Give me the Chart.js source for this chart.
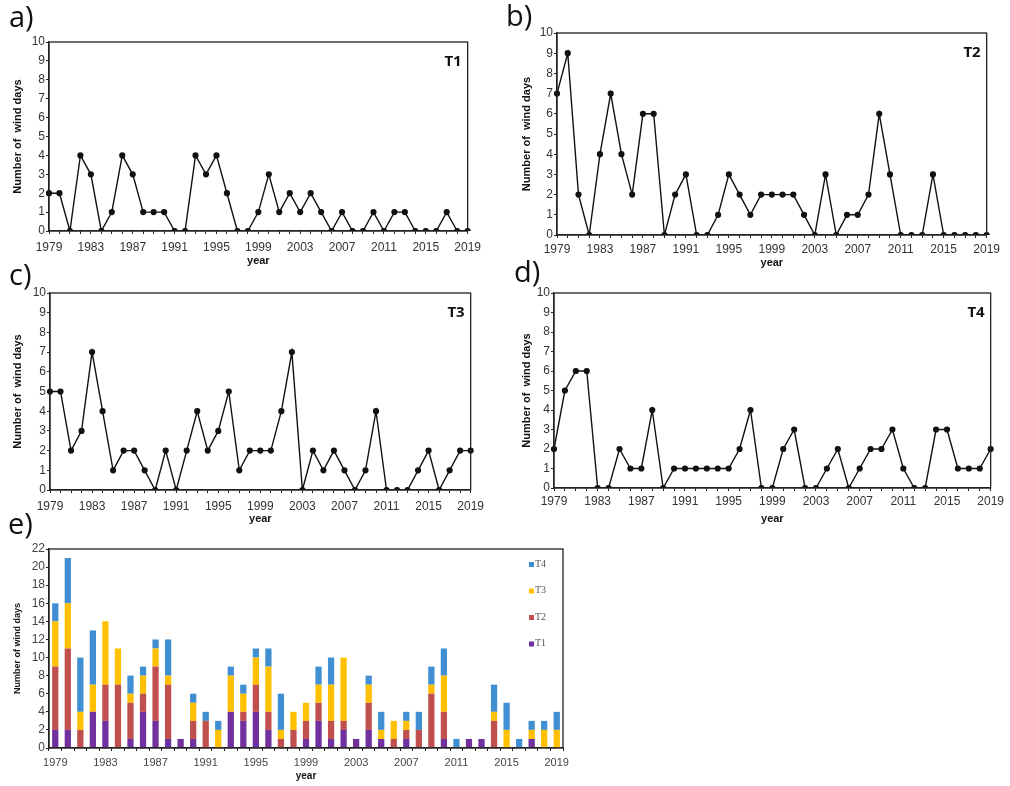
<!DOCTYPE html>
<html>
<head>
<meta charset="utf-8">
<script src="https://cdn.jsdelivr.net/npm/chart.js@4.4.1/dist/chart.umd.min.js"></script>
<style>
  body { margin: 0; background: #fff; }
  #page { position: relative; width: 1010px; height: 786px; overflow: hidden; }
  .panel { position: absolute; }
  .tag { position: absolute; font-family: "Open Sans", sans-serif; font-size: 29px; line-height: 1; color: #111; }
</style>
</head>
<body>
<div id="page">
  <div class="panel" style="left:0;top:0;width:487px;height:272px"><canvas id="chartA"></canvas></div>
  <div class="panel" style="left:500px;top:0;width:504px;height:274px"><canvas id="chartB"></canvas></div>
  <div class="panel" style="left:0;top:255px;width:490px;height:275px"><canvas id="chartC"></canvas></div>
  <div class="panel" style="left:500px;top:255px;width:507px;height:275px"><canvas id="chartD"></canvas></div>
  <div class="panel" style="left:0;top:505px;width:600px;height:281px"><canvas id="chartE"></canvas></div>
  <div class="tag" style="left:9px;top:1px">a)</div>
  <div class="tag" style="left:506px;top:0px">b)</div>
  <div class="tag" style="left:9px;top:259px">c)</div>
  <div class="tag" style="left:514px;top:256px">d)</div>
  <div class="tag" style="left:8px;top:508px">e)</div>
</div>
<script>
// years 1979..2019
const years = [];
for (let y = 1979; y <= 2019; y++) years.push(String(y));

// number of wind days per type
const t1 = [2,2,0,4,3,0,1,4,3,1,1,1,0,0,4,3,4,2,0,0,1,3,1,2,1,2,1,0,1,0,0,1,0,1,1,0,0,0,1,0,0];
const t2 = [7,9,2,0,4,7,4,2,6,6,0,2,3,0,0,1,3,2,1,2,2,2,2,1,0,3,0,1,1,2,6,3,0,0,0,3,0,0,0,0,0];
const t3 = [5,5,2,3,7,4,1,2,2,1,0,2,0,2,4,2,3,5,1,2,2,2,4,7,0,2,1,2,1,0,1,4,0,0,0,1,2,0,1,2,2];
const t4 = [2,5,6,6,0,0,2,1,1,4,0,1,1,1,1,1,1,2,4,0,0,2,3,0,0,1,2,0,1,2,2,3,1,0,0,3,3,1,1,1,2];

const typeNames = ['T1', 'T2', 'T3', 'T4'];
const typeColors = ['#7030A0', '#C0504D', '#FFC000', '#3F8FD2'];

const tickFont = { family: 'Liberation Sans, Arial, sans-serif', size: 12 };
const titleFont = { family: 'Liberation Sans, Arial, sans-serif', size: 11, weight: 'bold' };

// box around the plot area (top and right edges like Excel)
const frame = {
    id: 'frame',
    afterDraw(chart) {
        const a = chart.chartArea, ctx = chart.ctx;
        ctx.save();
        ctx.strokeStyle = '#222';
        ctx.lineWidth = 1.3;
        ctx.strokeRect(a.left, a.top, a.right - a.left, a.bottom - a.top);
        ctx.restore();
    }
};

// series name written in the top-right corner of the line panels
const cornerName = {
    id: 'cornerName',
    afterDraw(chart) {
        if (chart.config.type !== 'line') return;
        const a = chart.chartArea, ctx = chart.ctx;
        ctx.save();
        ctx.font = 'bold 15px "Open Sans", sans-serif';
        ctx.fillStyle = '#111';
        ctx.textAlign = 'right';
        ctx.textBaseline = 'middle';
        ctx.fillText(chart.data.datasets[0].label, a.right - 6, a.top + 20);
        ctx.restore();
    }
};

// small vertical legend inside the stacked panel, top series first
const cornerLegend = {
    id: 'cornerLegend',
    afterDraw(chart) {
        if (chart.config.type !== 'bar') return;
        const a = chart.chartArea, ctx = chart.ctx;
        const sets = chart.data.datasets.slice().reverse();
        ctx.save();
        ctx.font = '10px "Liberation Serif", serif';
        ctx.textBaseline = 'middle';
        sets.forEach((ds, i) => {
            const y = a.top + 15 + i * 26.5;
            ctx.fillStyle = ds.backgroundColor;
            ctx.fillRect(a.right - 34, y - 2, 5, 5);
            ctx.fillStyle = '#555';
            ctx.fillText(ds.label, a.right - 28, y);
        });
        ctx.restore();
    }
};

function lineChart(id, name, values, box) {
    new Chart(document.getElementById(id), {
        type: 'line',
        data: {
            labels: years,
            datasets: [{
                label: name,
                data: values,
                borderColor: '#111',
                borderWidth: 1.4,
                pointRadius: 2.4,
                pointBackgroundColor: '#111',
                pointBorderColor: '#111',
                tension: 0
            }]
        },
        options: {
            responsive: true,
            maintainAspectRatio: false,
            animation: false,
            layout: { padding: { top: box.top, right: box.right, left: 0, bottom: 0 } },
            plugins: { legend: { display: false }, tooltip: { enabled: false } },
            scales: {
                x: {
                    offset: false,
                    grid: { drawOnChartArea: false, tickLength: 3, color: '#222' },
                    border: { color: '#222', width: 1.3 },
                    ticks: {
                        autoSkip: false, maxRotation: 0, padding: box.xpad,
                        font: tickFont, color: '#333',
                        callback: function(v, i) { return i % 4 === 0 ? this.getLabelForValue(v) : ''; }
                    },
                    title: { display: true, text: 'year', font: titleFont, color: '#111', padding: { top: 0, bottom: 4 } },
                    afterFit(s) { s.height = box.xh; }
                },
                y: {
                    min: 0, max: 10,
                    grid: { drawOnChartArea: false, tickLength: 3, color: '#222' },
                    border: { color: '#222', width: 1.3 },
                    ticks: { stepSize: 1, padding: 1, font: tickFont, color: '#333' },
                    title: { display: true, text: 'Number of  wind days', font: titleFont, color: '#111', padding: { top: box.tpad, bottom: 0 } },
                    afterFit(s) { s.width = box.yw; }
                }
            }
        },
        plugins: [frame, cornerName]
    });
}

lineChart('chartA', typeNames[0], t1, { top: 42, right: 12, yw: 49, xh: 41, xpad: 6, tpad: 11 });
lineChart('chartB', typeNames[1], t2, { top: 33, right: 13, yw: 57, xh: 39, xpad: 4, tpad: 20 });
lineChart('chartC', typeNames[2], t3, { top: 38, right: 10, yw: 50, xh: 40, xpad: 6, tpad: 11 });
lineChart('chartD', typeNames[3], t4, { top: 38, right: 10, yw: 54, xh: 42, xpad: 3, tpad: 20 });

const stackSeries = [t1, t2, t3, t4];

new Chart(document.getElementById('chartE'), {
    type: 'bar',
    data: {
        labels: years,
        datasets: stackSeries.map((vals, i) => ({
            label: typeNames[i],
            data: vals,
            backgroundColor: typeColors[i],
            barPercentage: 0.5,
            categoryPercentage: 1
        }))
    },
    options: {
        responsive: true,
        maintainAspectRatio: false,
        animation: false,
        layout: { padding: { top: 44, right: 37, left: 0, bottom: 0 } },
        plugins: { legend: { display: false }, tooltip: { enabled: false } },
        scales: {
            x: {
                stacked: true,
                grid: { drawOnChartArea: false, tickLength: 3, color: '#222', offset: true },
                border: { color: '#222', width: 1.3 },
                ticks: {
                    autoSkip: false, maxRotation: 0, padding: 5,
                    font: { family: 'Liberation Sans, Arial, sans-serif', size: 11 }, color: '#444',
                    callback: function(v, i) { return i % 4 === 0 ? this.getLabelForValue(v) : ''; }
                },
                title: { display: true, text: 'year', font: { family: 'Liberation Sans, Arial, sans-serif', size: 10, weight: 'bold' }, color: '#111', padding: { top: 0, bottom: 4 } },
                afterFit(s) { s.height = 38; }
            },
            y: {
                stacked: true,
                min: 0, max: 22,
                grid: { drawOnChartArea: false, tickLength: 3, color: '#222' },
                border: { color: '#222', width: 1.3 },
                ticks: { stepSize: 2, padding: 1, font: tickFont, color: '#444' },
                title: { display: true, text: 'Number of wind days', font: { family: 'Liberation Sans, Arial, sans-serif', size: 9, weight: 'bold' }, color: '#111', padding: { top: 12, bottom: 0 } },
                afterFit(s) { s.width = 49; }
            }
        }
    },
    plugins: [frame, cornerLegend]
});
</script>
</body>
</html>
